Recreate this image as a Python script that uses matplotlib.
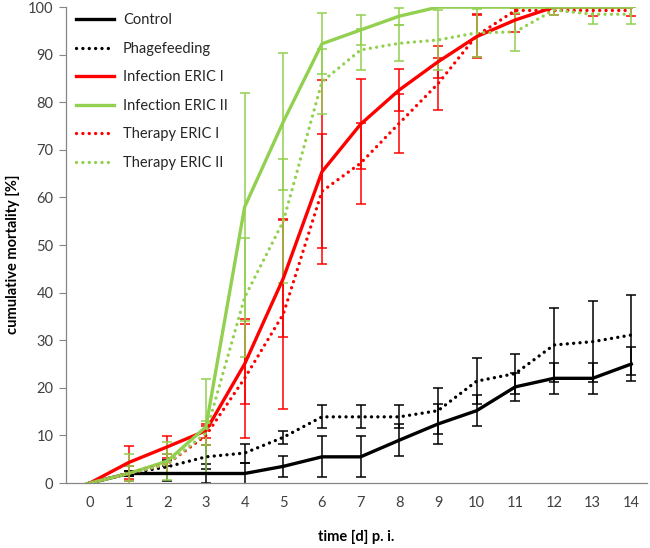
import matplotlib
matplotlib.use('Agg')
import matplotlib.pyplot as plt

plt.rcParams['font.family'] = ['Lato', 'DejaVu Sans']

days = list(range(15))

control = [0, 2, 2, 2, 2, 3.5, 5.5, 5.5, 9, 12.4, 15.2, 20.2, 22, 22, 25]
control_err = [0, 0.5, 1.5, 2, 2.2, 2.2, 4.3, 4.3, 3.3, 4.3, 3.2, 3, 3.3, 3.3, 3.6]

phage = [0, 2, 3.4, 5.5, 6.3, 9.6, 13.9, 13.9, 13.9, 15.2, 21.4, 23, 29, 29.7, 31.1]
phage_err = [0, 0.5, 1.5, 2.5, 2, 1.3, 2.4, 2.4, 2.4, 4.8, 4.8, 4.2, 7.7, 8.5, 8.4]

inf1 = [0, 4.3, 7.6, 11, 25, 43, 65.4, 75.4, 82.6, 88.5, 93.8, 97.3, 100, 100, 100]
inf1_err = [0, 3.5, 2.3, 1.5, 8.4, 12.3, 19.3, 9.5, 4.5, 3.3, 4.5, 2.5, 0, 0, 0]

inf2 = [0, 2, 4.6, 11.8, 58, 75.9, 92.3, 95.2, 98.1, 100, 100, 100, 100, 100, 100]
inf2_err = [0, 4, 4, 10, 24, 14.4, 6.4, 3.2, 1.8, 0, 0, 0, 0, 0, 0]

ther1 = [0, 2, 4, 10, 22, 35.5, 61.3, 67.2, 75.6, 83.9, 94, 99.3, 99.3, 99.3, 99.3]
ther1_err = [0, 1.5, 2, 2, 12.5, 20, 12, 8.5, 6.2, 5.5, 4.5, 0.8, 1, 1.2, 1.2]

ther2 = [0, 2, 4, 10.5, 39, 55, 84.3, 91, 92.4, 93.1, 94.6, 94.8, 99.4, 98.5, 98.5]
ther2_err = [0, 1.5, 2, 2.5, 12.5, 13, 6.8, 4.3, 3.8, 6.3, 5, 4, 1, 2.1, 2.1]

GREEN = '#92D050'
RED = '#FF0000'
BLACK = '#000000'

series = [
    ("Control", control, control_err, BLACK, '-'),
    ("Phagefeeding", phage, phage_err, BLACK, ':'),
    ("Infection ERIC I", inf1, inf1_err, RED, '-'),
    ("Infection ERIC II", inf2, inf2_err, GREEN, '-'),
    ("Therapy ERIC I", ther1, ther1_err, RED, ':'),
    ("Therapy ERIC II", ther2, ther2_err, GREEN, ':'),
]

fig = plt.figure(figsize=(6.5, 5.48), dpi=100)
ax = fig.add_axes([0.1015, 0.1186, 0.8935, 0.8684])

# error bars first, lines on top
for name, vals, err, col, ls in series:
    ax.errorbar(days, vals, yerr=err, fmt='none', ecolor=col,
                elinewidth=1.1, capsize=3.5, capthick=1.1, zorder=2)
for name, vals, err, col, ls in series:
    if ls == ':':
        ax.plot(days, vals, color=col, lw=2.4, linestyle=(0, (0.01, 1.9)),
                dash_capstyle='round', label=name, zorder=3)
    else:
        ax.plot(days, vals, color=col, lw=2.4, label=name, zorder=3)

ax.set_xlim(-0.62, 14.4)
ax.set_ylim(0, 100)
ax.set_yticks(range(0, 101, 10))
ax.set_xticks(days)
ax.tick_params(axis='x', length=0, pad=9, labelsize=10.5, colors='#404040')
ax.tick_params(axis='y', length=5, width=0.8, color='#868686', pad=4,
               labelsize=10.5, labelcolor='#404040')
for s in ['top', 'right']:
    ax.spines[s].set_visible(False)
for s in ['left', 'bottom']:
    ax.spines[s].set_color('#868686')
    ax.spines[s].set_linewidth(0.9)

ax.set_xlabel("time [d] p. i.", fontsize=10.5, fontweight='bold', labelpad=15)
ax.set_ylabel("cumulative mortality [%]", fontsize=10.5, fontweight='bold')
ax.yaxis.set_label_coords(-0.08, 0.481)

leg = ax.legend(loc='upper left', frameon=False, fontsize=10.5,
                handlelength=2.6, handletextpad=0.6, labelspacing=1.0,
                bbox_to_anchor=(0.0, 1.009), borderaxespad=0.3)
for t in leg.get_texts():
    t.set_color('#262626')

fig.savefig('out.png', dpi=100)
